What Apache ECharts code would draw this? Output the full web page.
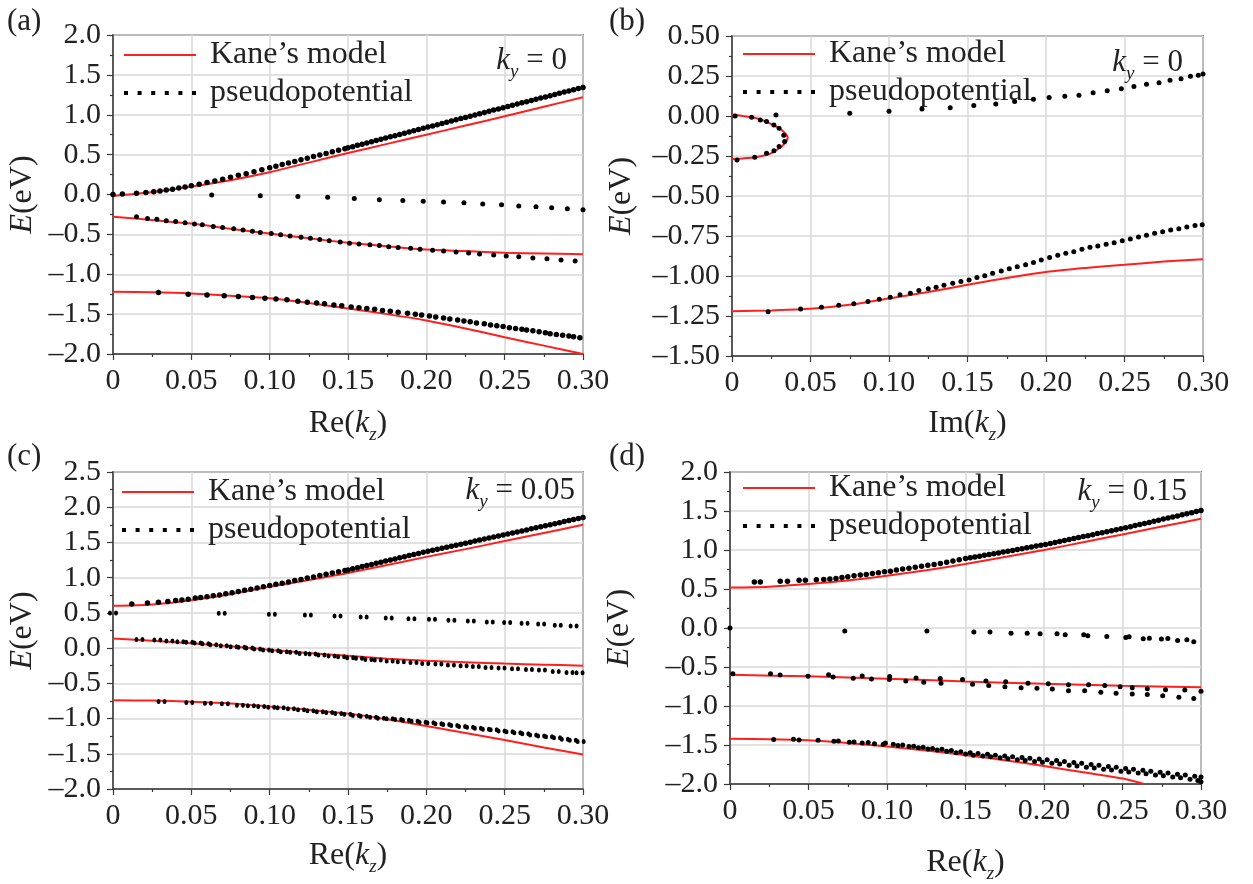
<!DOCTYPE html>
<html><head><meta charset="utf-8">
<script src="https://cdn.jsdelivr.net/npm/echarts@6/dist/echarts.min.js"></script>
<style>html,body{margin:0;padding:0;background:#fff}#c{width:1253px;height:884px}</style>
</head><body><div id="c"></div>
<script>
// ---------- tick labels ----------
const xTickLabels = ['0','0.05','0.10','0.15','0.20','0.25','0.30'];
const yTicksA = ['–2.0','–1.5','–1.0','–0.5','0.0','0.5','1.0','1.5','2.0'];
const yTicksB = ['–1.50','–1.25','–1.00','–0.75','–0.50','–0.25','0.00','0.25','0.50'];
const yTicksC = ['–2.0','–1.5','–1.0','–0.5','0.0','0.5','1.0','1.5','2.0','2.5'];
const yTicksD = ['–2.0','–1.5','–1.0','–0.5','0.0','0.5','1.0','1.5','2.0'];
const panelTags = ['(a)','(b)','(c)','(d)'];
const kyValues = ['0','0','0.05','0.15'];

// shared k grid for the dense part of the upper bands
const kFine = [0.153,0.156,0.159,0.162,0.165,0.168,0.171,0.174,0.177,0.180,0.183,0.186,0.189,0.192,0.195,0.198,0.201,0.204,0.207,0.210,0.213,0.216,0.219,0.222,0.225,0.228,0.231,0.234,0.237,0.240,0.243,0.246,0.249,0.252,0.255,0.258,0.261,0.264,0.267,0.270,0.273,0.276,0.279,0.282,0.285,0.288,0.291,0.294,0.297,0.300];

// ---------- panel (a): ky = 0, Re(kz) ----------
const aKaneC = [[0,-0.02],[0.025,0.03],[0.05,0.10],[0.075,0.18],[0.10,0.28],[0.125,0.40],[0.15,0.52],[0.175,0.635],[0.20,0.75],[0.225,0.865],[0.25,0.98],[0.275,1.10],[0.30,1.22]];
const aKaneLH = [[0,-0.28],[0.025,-0.32],[0.05,-0.365],[0.075,-0.43],[0.10,-0.49],[0.125,-0.55],[0.15,-0.605],[0.175,-0.65],[0.20,-0.69],[0.225,-0.71],[0.25,-0.73],[0.275,-0.74],[0.30,-0.75]];
const aKaneSO = [[0,-1.22],[0.025,-1.225],[0.05,-1.24],[0.075,-1.27],[0.10,-1.30],[0.125,-1.36],[0.15,-1.43],[0.175,-1.50],[0.20,-1.58],[0.225,-1.68],[0.25,-1.79],[0.275,-1.895],[0.30,-2.0]];
const aPseudoCLow = [[0,0],[0.006,0.005],[0.015,0.015],[0.021,0.025],[0.026,0.035],[0.03,0.045],[0.034,0.055],[0.038,0.065],[0.042,0.08],[0.046,0.095],[0.05,0.11],[0.055,0.13],[0.06,0.15],[0.065,0.17],[0.07,0.19],[0.075,0.215],[0.08,0.24],[0.085,0.26],[0.09,0.285],[0.095,0.31],[0.1,0.335],[0.104,0.355],[0.108,0.375],[0.112,0.395],[0.116,0.415],[0.12,0.435],[0.124,0.455],[0.128,0.475],[0.132,0.495],[0.136,0.515],[0.14,0.535],[0.144,0.555],[0.148,0.575],[0.15,0.585]];
const aFineE = [0.60,0.616,0.631,0.646,0.662,0.677,0.692,0.707,0.723,0.738,0.753,0.769,0.784,0.799,0.815,0.830,0.845,0.860,0.876,0.891,0.906,0.921,0.937,0.952,0.967,0.982,0.997,1.013,1.028,1.043,1.058,1.073,1.089,1.104,1.119,1.134,1.149,1.164,1.179,1.194,1.209,1.224,1.239,1.254,1.269,1.284,1.299,1.314,1.328,1.342];
const aPseudoMid = [[0.063,-0.005],[0.094,-0.015],[0.118,-0.025],[0.137,-0.035],[0.154,-0.05],[0.170,-0.065],[0.185,-0.075],[0.198,-0.085],[0.211,-0.095],[0.224,-0.105],[0.236,-0.12],[0.248,-0.13],[0.259,-0.145],[0.270,-0.155],[0.280,-0.165],[0.290,-0.18],[0.300,-0.19]];
const aPseudoLH = [[0.015,-0.28],[0.022,-0.30],[0.028,-0.31],[0.034,-0.33],[0.040,-0.34],[0.046,-0.355],[0.052,-0.37],[0.057,-0.38],[0.064,-0.40],[0.070,-0.415],[0.077,-0.43],[0.083,-0.445],[0.089,-0.46],[0.094,-0.475],[0.101,-0.49],[0.107,-0.505],[0.113,-0.52],[0.120,-0.535],[0.126,-0.55],[0.132,-0.565],[0.138,-0.58],[0.145,-0.595],[0.151,-0.61],[0.157,-0.62],[0.164,-0.63],[0.170,-0.64],[0.176,-0.655],[0.182,-0.665],[0.190,-0.675],[0.196,-0.685],[0.204,-0.70],[0.211,-0.71],[0.219,-0.72],[0.227,-0.735],[0.234,-0.745],[0.243,-0.76],[0.251,-0.77],[0.259,-0.78],[0.268,-0.795],[0.277,-0.805],[0.286,-0.82],[0.295,-0.835]];
const aPseudoSO = [[0.029,-1.23],[0.048,-1.25],[0.060,-1.26],[0.071,-1.27],[0.080,-1.28],[0.089,-1.29],[0.097,-1.30],[0.104,-1.31],[0.111,-1.32],[0.118,-1.34],[0.124,-1.35],[0.130,-1.36],[0.135,-1.37],[0.141,-1.385],[0.146,-1.395],[0.152,-1.41],[0.157,-1.42],[0.162,-1.43],[0.167,-1.44],[0.172,-1.455],[0.177,-1.465],[0.182,-1.475],[0.188,-1.49],[0.193,-1.50],[0.197,-1.51],[0.202,-1.525],[0.206,-1.535],[0.211,-1.55],[0.215,-1.56],[0.220,-1.575],[0.224,-1.585],[0.228,-1.595],[0.232,-1.61],[0.237,-1.62],[0.241,-1.635],[0.245,-1.645],[0.249,-1.655],[0.253,-1.67],[0.257,-1.68],[0.261,-1.69],[0.264,-1.70],[0.268,-1.71],[0.272,-1.72],[0.276,-1.735],[0.279,-1.745],[0.283,-1.755],[0.287,-1.765],[0.291,-1.775],[0.294,-1.785],[0.298,-1.795]];

// ---------- panel (b): ky = 0, Im(kz) ----------
const bKaneLoop = [[0,0.01],[0.007,0.0],[0.0136,-0.01],[0.019,-0.025],[0.024,-0.046],[0.028,-0.065],[0.0316,-0.087],[0.034,-0.11],[0.0355,-0.135],[0.0345,-0.16],[0.0316,-0.19],[0.028,-0.215],[0.024,-0.237],[0.019,-0.25],[0.0136,-0.26],[0.007,-0.265],[0,-0.268]];
const bKaneLow = [[0,-1.22],[0.025,-1.215],[0.05,-1.205],[0.075,-1.18],[0.1,-1.14],[0.125,-1.10],[0.15,-1.055],[0.175,-1.012],[0.2,-0.975],[0.225,-0.95],[0.25,-0.93],[0.275,-0.91],[0.3,-0.895]];
const bPseudoLoop = [[0.002,0.0],[0.0125,-0.008],[0.018,-0.025],[0.022,-0.035],[0.0267,-0.056],[0.030,-0.077],[0.033,-0.12],[0.0335,-0.16],[0.030,-0.19],[0.0267,-0.217],[0.022,-0.233],[0.0145,-0.258],[0.0032,-0.275],[0.028,0.006]];
const bPseudoUp = [[0.075,0.017],[0.1,0.029],[0.121,0.044],[0.139,0.052],[0.154,0.065],[0.168,0.075],[0.18,0.09],[0.192,0.104],[0.202,0.115],[0.212,0.123],[0.221,0.13],[0.23,0.146],[0.239,0.158],[0.248,0.17],[0.256,0.185],[0.264,0.198],[0.272,0.208],[0.279,0.223],[0.286,0.233],[0.292,0.248],[0.297,0.254],[0.3,0.262]];
const bPseudoLow = [[0.023,-1.223],[0.0437,-1.206],[0.057,-1.196],[0.068,-1.183],[0.0776,-1.173],[0.0866,-1.16],[0.0938,-1.146],[0.1008,-1.133],[0.107,-1.117],[0.1136,-1.108],[0.119,-1.09],[0.125,-1.08],[0.130,-1.07],[0.135,-1.058],[0.1406,-1.046],[0.1458,-1.035],[0.151,-1.025],[0.156,-1.01],[0.161,-0.998],[0.166,-0.983],[0.1715,-0.969],[0.1766,-0.954],[0.1817,-0.942],[0.187,-0.929],[0.192,-0.915],[0.197,-0.9],[0.2023,-0.885],[0.2075,-0.871],[0.2126,-0.858],[0.2177,-0.848],[0.2229,-0.833],[0.228,-0.821],[0.233,-0.813],[0.2383,-0.802],[0.2434,-0.792],[0.2486,-0.779],[0.2537,-0.769],[0.2589,-0.756],[0.264,-0.746],[0.2692,-0.733],[0.2743,-0.723],[0.2794,-0.713],[0.2846,-0.704],[0.2897,-0.694],[0.2949,-0.685],[0.2995,-0.679]];

// ---------- panel (c): ky = 0.05 ----------
const cKaneC = [[0,0.60],[0.025,0.62],[0.05,0.68],[0.075,0.765],[0.1,0.87],[0.125,0.965],[0.15,1.065],[0.175,1.18],[0.2,1.295],[0.225,1.405],[0.25,1.52],[0.275,1.635],[0.3,1.75]];
const cKaneLH = [[0,0.135],[0.025,0.105],[0.05,0.07],[0.075,0.025],[0.1,-0.025],[0.125,-0.07],[0.15,-0.11],[0.175,-0.15],[0.2,-0.18],[0.225,-0.2],[0.25,-0.22],[0.275,-0.235],[0.3,-0.25]];
const cKaneSO = [[0,-0.74],[0.025,-0.745],[0.05,-0.76],[0.075,-0.785],[0.1,-0.83],[0.125,-0.875],[0.15,-0.93],[0.175,-1.01],[0.2,-1.105],[0.225,-1.205],[0.25,-1.305],[0.275,-1.41],[0.3,-1.51]];
const cPseudoCLow = [[0.012,0.627],[0.022,0.64],[0.029,0.65],[0.035,0.66],[0.04,0.675],[0.044,0.684],[0.048,0.694],[0.0525,0.71],[0.056,0.72],[0.06,0.73],[0.064,0.745],[0.068,0.755],[0.072,0.77],[0.076,0.785],[0.08,0.805],[0.084,0.82],[0.088,0.835],[0.092,0.855],[0.096,0.87],[0.1,0.89],[0.104,0.905],[0.108,0.92],[0.112,0.94],[0.116,0.96],[0.12,0.975],[0.124,0.995],[0.128,1.01],[0.132,1.03],[0.136,1.05],[0.14,1.065],[0.144,1.085],[0.148,1.10],[0.15,1.11]];
const cFineE = [1.126,1.141,1.157,1.172,1.188,1.204,1.219,1.235,1.25,1.266,1.282,1.297,1.313,1.328,1.344,1.36,1.375,1.389,1.404,1.418,1.432,1.447,1.461,1.476,1.49,1.504,1.519,1.533,1.548,1.562,1.576,1.591,1.605,1.62,1.634,1.649,1.664,1.678,1.693,1.708,1.723,1.737,1.752,1.767,1.781,1.796,1.811,1.826,1.84,1.855];
const cPseudoMid = [[0.0,0.5],[0.0694,0.494],[0.1014,0.48],[0.1244,0.47],[0.1433,0.456],[0.160,0.442],[0.176,0.428],[0.1905,0.418],[0.2036,0.409],[0.216,0.395],[0.2284,0.385],[0.2405,0.371],[0.2516,0.362],[0.2627,0.352],[0.2733,0.343],[0.2839,0.324],[0.294,0.314]];
const cPseudoLH = [[0.0169,0.124],[0.0283,0.115],[0.036,0.10],[0.043,0.09],[0.0487,0.082],[0.054,0.072],[0.059,0.063],[0.064,0.049],[0.0707,0.034],[0.077,0.02],[0.082,0.011],[0.087,0.001],[0.092,-0.013],[0.0977,-0.027],[0.1035,-0.037],[0.109,-0.051],[0.115,-0.06],[0.121,-0.075],[0.1274,-0.084],[0.133,-0.098],[0.1395,-0.112],[0.1456,-0.122],[0.1514,-0.136],[0.157,-0.145],[0.163,-0.16],[0.169,-0.169],[0.1766,-0.184],[0.1837,-0.193],[0.1918,-0.203],[0.1993,-0.217],[0.2077,-0.226],[0.2157,-0.241],[0.2238,-0.25],[0.2316,-0.26],[0.2397,-0.274],[0.248,-0.283],[0.2566,-0.293],[0.2655,-0.302],[0.2738,-0.312],[0.2826,-0.331],[0.2914,-0.345],[0.2978,-0.35]];
const cPseudoSO = [[0.031,-0.757],[0.0487,-0.772],[0.0606,-0.781],[0.0714,-0.79],[0.081,-0.81],[0.088,-0.819],[0.0946,-0.829],[0.101,-0.838],[0.107,-0.848],[0.1136,-0.862],[0.12,-0.876],[0.126,-0.89],[0.132,-0.905],[0.138,-0.914],[0.1438,-0.928],[0.1496,-0.938],[0.155,-0.957],[0.160,-0.966],[0.166,-0.98],[0.171,-0.995],[0.1766,-1.004],[0.182,-1.014],[0.187,-1.023],[0.1925,-1.037],[0.1976,-1.051],[0.2026,-1.061],[0.2077,-1.075],[0.2127,-1.085],[0.2178,-1.099],[0.2228,-1.113],[0.2279,-1.123],[0.2329,-1.137],[0.238,-1.151],[0.243,-1.16],[0.248,-1.175],[0.2531,-1.189],[0.2581,-1.203],[0.2632,-1.217],[0.2682,-1.232],[0.2733,-1.246],[0.2783,-1.26],[0.2834,-1.274],[0.2884,-1.293],[0.2935,-1.307],[0.2985,-1.326]];

// ---------- panel (d): ky = 0.15 ----------
const dKaneC = [[0,0.52],[0.025,0.53],[0.05,0.565],[0.075,0.61],[0.1,0.67],[0.125,0.74],[0.15,0.82],[0.175,0.91],[0.2,1.0],[0.225,1.10],[0.25,1.20],[0.275,1.30],[0.3,1.40]];
const dKaneLH = [[0,-0.60],[0.05,-0.62],[0.1,-0.65],[0.15,-0.685],[0.2,-0.715],[0.25,-0.74],[0.3,-0.76]];
const dKaneSO = [[0,-1.42],[0.025,-1.425],[0.05,-1.44],[0.075,-1.475],[0.1,-1.52],[0.125,-1.57],[0.15,-1.63],[0.175,-1.695],[0.2,-1.77],[0.225,-1.85],[0.25,-1.93],[0.2637,-2.0]];
const dPseudoCLow = [[0.0155,0.59],[0.0193,0.59],[0.032,0.598],[0.0366,0.598],[0.044,0.611],[0.048,0.611],[0.055,0.619],[0.0597,0.623],[0.0636,0.628],[0.0675,0.636],[0.0713,0.649],[0.075,0.657],[0.079,0.67],[0.083,0.678],[0.0868,0.686],[0.0907,0.699],[0.0945,0.707],[0.0984,0.72],[0.1022,0.728],[0.106,0.742],[0.11,0.755],[0.114,0.767],[0.118,0.779],[0.122,0.791],[0.126,0.803],[0.13,0.815],[0.134,0.827],[0.138,0.842],[0.142,0.858],[0.146,0.874],[0.15,0.89]];
const dFineE = [0.90,0.911,0.921,0.932,0.942,0.953,0.963,0.974,0.984,0.995,1.006,1.017,1.028,1.039,1.05,1.06,1.071,1.084,1.096,1.109,1.121,1.134,1.147,1.159,1.172,1.184,1.197,1.21,1.222,1.235,1.247,1.26,1.272,1.285,1.299,1.313,1.326,1.34,1.354,1.368,1.382,1.396,1.41,1.423,1.437,1.451,1.465,1.479,1.492,1.506];
const dPseudoMid = [[0,0.0],[0.0731,-0.038],[0.1254,-0.038],[0.1553,-0.05],[0.1656,-0.05],[0.179,-0.067],[0.1893,-0.067],[0.1975,-0.075],[0.2083,-0.075],[0.2135,-0.088],[0.2253,-0.088],[0.2279,-0.1],[0.24,-0.109],[0.2521,-0.121],[0.2542,-0.113],[0.2632,-0.138],[0.2671,-0.13],[0.2748,-0.142],[0.2789,-0.134],[0.2851,-0.159],[0.291,-0.151],[0.2954,-0.176]];
const dPseudoLH = [[0.0018,-0.586],[0.0258,-0.586],[0.0319,-0.603],[0.0497,-0.619],[0.0628,-0.598],[0.0657,-0.628],[0.0785,-0.644],[0.0842,-0.615],[0.0901,-0.653],[0.1017,-0.623],[0.1015,-0.661],[0.112,-0.678],[0.1185,-0.64],[0.1234,-0.695],[0.1339,-0.649],[0.1344,-0.707],[0.1481,-0.661],[0.1545,-0.72],[0.163,-0.678],[0.1648,-0.736],[0.1756,-0.69],[0.1751,-0.753],[0.1854,-0.766],[0.1898,-0.707],[0.1955,-0.774],[0.2027,-0.715],[0.2053,-0.782],[0.2156,-0.803],[0.2156,-0.728],[0.2259,-0.803],[0.2284,-0.728],[0.2362,-0.824],[0.2387,-0.736],[0.2459,-0.837],[0.2485,-0.753],[0.2562,-0.845],[0.2562,-0.766],[0.2658,-0.854],[0.2658,-0.778],[0.2756,-0.87],[0.2774,-0.791],[0.2859,-0.887],[0.2897,-0.795],[0.2954,-0.904],[0.3,-0.812]];
const dPseudoSOStart = [[0.0278,-1.431],[0.0404,-1.427],[0.044,-1.435],[0.0561,-1.439],[0.0662,-1.452],[0.069,-1.448],[0.076,-1.464],[0.079,-1.46],[0.0842,-1.473],[0.088,-1.469],[0.092,-1.485],[0.0976,-1.49],[0.099,-1.473]];
const dPseudoSOUpper = [[0.104,-1.49],[0.11,-1.50],[0.117,-1.515],[0.123,-1.53],[0.129,-1.545],[0.135,-1.555],[0.141,-1.57],[0.147,-1.585],[0.153,-1.60],[0.158,-1.61],[0.164,-1.62],[0.169,-1.63],[0.175,-1.64],[0.18,-1.65],[0.186,-1.66],[0.191,-1.67],[0.197,-1.68],[0.202,-1.69],[0.208,-1.70],[0.213,-1.71],[0.219,-1.725],[0.224,-1.735],[0.23,-1.75],[0.235,-1.76],[0.241,-1.775],[0.246,-1.785],[0.252,-1.80],[0.257,-1.81],[0.263,-1.825],[0.268,-1.835],[0.274,-1.85],[0.279,-1.86],[0.285,-1.875],[0.29,-1.885],[0.296,-1.90],[0.3,-1.91]];
const dPseudoSOLower = [[0.107,-1.505],[0.114,-1.52],[0.12,-1.535],[0.126,-1.55],[0.132,-1.565],[0.138,-1.58],[0.144,-1.60],[0.15,-1.615],[0.155,-1.63],[0.161,-1.64],[0.166,-1.65],[0.172,-1.665],[0.177,-1.675],[0.183,-1.69],[0.188,-1.70],[0.194,-1.71],[0.199,-1.72],[0.205,-1.735],[0.21,-1.745],[0.216,-1.76],[0.221,-1.77],[0.227,-1.785],[0.232,-1.795],[0.238,-1.81],[0.243,-1.82],[0.249,-1.835],[0.254,-1.845],[0.26,-1.86],[0.265,-1.87],[0.271,-1.885],[0.276,-1.895],[0.282,-1.91],[0.287,-1.92],[0.293,-1.94],[0.298,-1.955],[0.3,-1.97]];

// ---------- styling ----------
const FONT = 'Liberation Serif';
const TXT = '#222222';
const RED = '#ff1f1f';
const AX = '#3a3a3a';
const GRIDC = '#d9d9d9';
const KANE = 'Kane’s model';
const PSEUDO = 'pseudopotential';
const LINEICON = 'path://M0,0h72v2h-72z';
const DOTS = 'path://M0,0h4v4h-4zM13.6,0h4v4h-4zM27.2,0h4v4h-4zM40.8,0h4v4h-4zM54.4,0h4v4h-4zM68,0h4v4h-4z';
const PAIR = 'path://M2,0A2,2,0,1,1,2,4A2,2,0,1,1,2,0ZM8,0A2,2,0,1,1,8,4A2,2,0,1,1,8,0Z';

const zip = (ks, es) => ks.map((k, i) => [k, es[i]]);

const panels = [
  { grid:{left:113,top:35,width:470,height:319}, yMin:-2, yMax:2, yInt:0.5, yLabels:yTicksA, xPre:'Re(', xGap:50, yGap:70,
    leg:{left:124,top:39}, ky:{right:686,top:41}, tag:{x:7,y:6},
    kane:[aKaneC,aKaneLH,aKaneSO],
    pseudo:[[aPseudoCLow.concat(zip(kFine,aFineE)),'circle',5.5],[aPseudoMid,'circle',5],[aPseudoLH,'circle',5],[aPseudoSO,'circle',5.5]] },
  { grid:{left:732,top:36,width:471,height:320}, yMin:-1.5, yMax:0.5, yInt:0.25, yLabels:yTicksB, xPre:'Im(', xGap:48, yGap:90,
    leg:{left:743,top:38}, ky:{right:70,top:43}, tag:{x:609,y:6},
    kane:[bKaneLoop,bKaneLow],
    pseudo:[[bPseudoLoop,'circle',5],[bPseudoUp,'circle',5],[bPseudoLow,'circle',5]] },
  { grid:{left:113,top:472,width:470,height:317}, yMin:-2, yMax:2.5, yInt:0.5, yLabels:yTicksC, xPre:'Re(', xGap:47, yGap:70,
    leg:{left:122,top:476}, ky:{right:678,top:471}, tag:{x:7,y:441},
    kane:[cKaneC,cKaneLH,cKaneSO],
    pseudo:[[cPseudoCLow.concat(zip(kFine,cFineE)),'circle',5.5],[cPseudoMid,PAIR,[10,5]],[cPseudoLH,PAIR,[10,5]],[cPseudoSO,PAIR,[10,5]]] },
  { grid:{left:730,top:472,width:471,height:318}, yMin:-2, yMax:2, yInt:0.5, yLabels:yTicksD, xPre:'Re(', xGap:59, yGap:90,
    leg:{left:743,top:472}, ky:{right:66,top:472}, tag:{x:609,y:441},
    kane:[dKaneC,dKaneLH,dKaneSO],
    pseudo:[[dPseudoCLow.concat(zip(kFine,dFineE)),'circle',5.5],[dPseudoMid,'circle',5],[dPseudoLH,'circle',5],[dPseudoSOStart,'circle',5],[dPseudoSOUpper,'circle',5],[dPseudoSOLower,'circle',5]] }
];

const nameRich = {
  n:{fontFamily:FONT,fontSize:32,color:TXT,lineHeight:40},
  i:{fontFamily:FONT,fontSize:32,color:TXT,fontStyle:'italic',lineHeight:40},
  s:{fontFamily:FONT,fontSize:19,color:TXT,fontStyle:'italic',lineHeight:24,verticalAlign:'bottom'}
};

const option = {
  backgroundColor:'#ffffff',
  animation:false,
  textStyle:{fontFamily:FONT},
  grid: panels.map(p => Object.assign({show:true, borderColor:AX, borderWidth:1.5, backgroundColor:'transparent'}, p.grid)),
  xAxis: panels.map((p, i) => ({
    type:'value', gridIndex:i, min:0, max:0.3, interval:0.05,
    axisLine:{show:true, onZero:false, lineStyle:{color:AX, width:1.5}},
    axisTick:{show:true, length:6, lineStyle:{color:AX, width:1.2}},
    minorTick:{show:true, splitNumber:2, length:3, lineStyle:{color:AX, width:1.2}},
    splitLine:{show:true, lineStyle:{color:GRIDC, width:1.5}},
    axisLabel:{margin:12, fontFamily:FONT, fontSize:30, fontWeight:'normal', color:TXT, formatter:v => xTickLabels[Math.round(v/0.05)]},
    name:'{n|' + p.xPre + '}{i|k}{s|z}{n|)}', nameLocation:'middle', nameGap:p.xGap,
    nameTextStyle:{fontFamily:FONT, fontSize:32, color:TXT, rich:nameRich}
  })),
  yAxis: panels.map((p, i) => ({
    type:'value', gridIndex:i, min:p.yMin, max:p.yMax, interval:p.yInt,
    axisLine:{show:true, onZero:false, lineStyle:{color:AX, width:1.5}},
    axisTick:{show:true, length:6, lineStyle:{color:AX, width:1.2}},
    minorTick:{show:true, splitNumber:2, length:3, lineStyle:{color:AX, width:1.2}},
    splitLine:{show:true, lineStyle:{color:GRIDC, width:1.5}},
    axisLabel:{margin:12, fontFamily:FONT, fontSize:30, fontWeight:'normal', color:TXT, formatter:v => p.yLabels[Math.round((v - p.yMin)/p.yInt)]},
    name:'{i|E}{n|(eV)}', nameLocation:'middle', nameGap:p.yGap,
    nameTextStyle:{fontFamily:FONT, fontSize:32, color:TXT, rich:nameRich}
  })),
  legend: panels.map(p => ({
    show:true, orient:'vertical', left:p.leg.left, top:p.leg.top, padding:0,
    itemWidth:72, itemHeight:14, itemGap:6, selectedMode:false, symbolKeepAspect:true,
    textStyle:{fontFamily:FONT, fontSize:32, fontWeight:'normal', color:TXT, lineHeight:32, padding:[0,0,0,9]},
    data:[{name:KANE, icon:LINEICON, itemStyle:{color:RED}}, {name:PSEUDO, icon:DOTS, itemStyle:{color:'#000'}}]
  })),
  title: panels.map((p, i) => ({
    text:'{k|k}{y|y}{t| = ' + kyValues[i] + '}', right:p.ky.right, top:p.ky.top, padding:0,
    textStyle:{fontFamily:FONT, fontSize:31, fontWeight:'normal', color:TXT, rich:{
      k:{fontFamily:FONT, fontSize:31, fontWeight:'normal', fontStyle:'italic', color:TXT, lineHeight:40},
      y:{fontFamily:FONT, fontSize:19, fontWeight:'normal', fontStyle:'italic', color:TXT, lineHeight:24, verticalAlign:'bottom'},
      t:{fontFamily:FONT, fontSize:31, fontWeight:'normal', color:TXT, lineHeight:40}
    }}
  })),
  graphic: panels.map((p, i) => ({
    type:'text', left:p.tag.x, top:p.tag.y, silent:true,
    style:{text:panelTags[i], fontFamily:FONT, fontSize:31, fill:TXT}
  })),
  series: []
};

panels.forEach((p, i) => {
  p.kane.forEach(d => option.series.push({
    type:'line', name:KANE, xAxisIndex:i, yAxisIndex:i, data:d, symbol:'none', smooth:0.3,
    lineStyle:{color:RED, width:2}, itemStyle:{color:RED}, z:3, silent:true
  }));
});
panels.forEach((p, i) => {
  p.pseudo.forEach(([d, sym, size]) => option.series.push({
    type:'scatter', name:PSEUDO, xAxisIndex:i, yAxisIndex:i, data:d, symbol:sym, symbolSize:size,
    itemStyle:{color:'#000', opacity:1}, z:4, silent:true
  }));
});

const chart = echarts.init(document.getElementById('c'), null, {renderer:'canvas'});
chart.setOption(option);
</script>
</body></html>
